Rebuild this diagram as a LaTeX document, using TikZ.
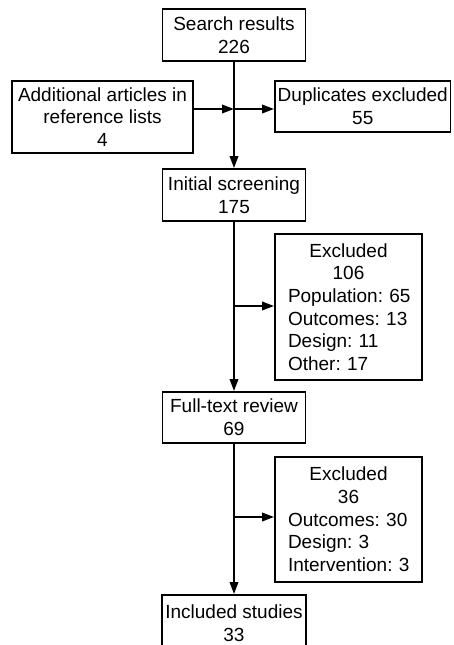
\documentclass[tikz,border=0pt]{standalone}
\usepackage{fontspec}
\setmainfont{Liberation Sans}
\usetikzlibrary{arrows.meta}
\frenchspacing
\begin{document}
\begin{tikzpicture}[x=1pt,y=-1pt,
  box/.style={draw, line width=1.9pt, inner sep=0pt, align=center,
    font=\fontsize{19}{22.7}\selectfont\frenchspacing},
  conn/.style={line width=2pt},
  arr/.style={conn, -{Triangle[length=12pt,width=8.5pt]}}]
\useasboundingbox (0,0) rectangle (454,645);
\node[box, minimum width=143pt, minimum height=52pt] (search) at (234,35) {Search results\\226};
\node[box, minimum width=181pt, minimum height=72pt] (add) at (102.5,117) {Additional articles in\\reference lists\\4};
\node[box, minimum width=175.5pt, minimum height=51pt] (dup) at (362.75,106.5) {Duplicates excluded\\55};
\node[box, minimum width=143pt, minimum height=52pt] (init) at (234,195) {Initial screening\\175};
\node[box, minimum width=147pt, minimum height=146pt, text width=121pt, align=left] (ex1) at (348.5,307)
  {\centering Excluded\\106\par\raggedright\mbox{Population: 65}\\\mbox{Outcomes: 13}\\\mbox{Design: 11}\\\mbox{Other: 17}};
\node[box, minimum width=143pt, minimum height=51pt] (full) at (234,417.5) {Full-text review\\69};
\node[box, minimum width=147pt, minimum height=125pt, text width=121pt, align=left] (ex2) at (348.5,519.5)
  {\centering Excluded\\36\par\raggedright\mbox{Outcomes: 30}\\\mbox{Design: 3}\\\mbox{Intervention: 3}};
\node[box, minimum width=144pt, minimum height=56pt] (incl) at (234,623) {Included studies\\33};
\coordinate (j1) at (234,109);
\coordinate (j2) at (234,306);
\coordinate (j3) at (234,517);
\draw[arr] (search.south) -- (init.north);
\draw[arr] (add.east |- j1) -- (j1);
\draw[arr] (j1) -- (dup.west |- j1);
\draw[arr] (init.south) -- (full.north);
\draw[arr] (j2) -- (ex1.west |- j2);
\draw[arr] (full.south) -- (incl.north);
\draw[arr] (j3) -- (ex2.west |- j3);
\end{tikzpicture}
\end{document}
